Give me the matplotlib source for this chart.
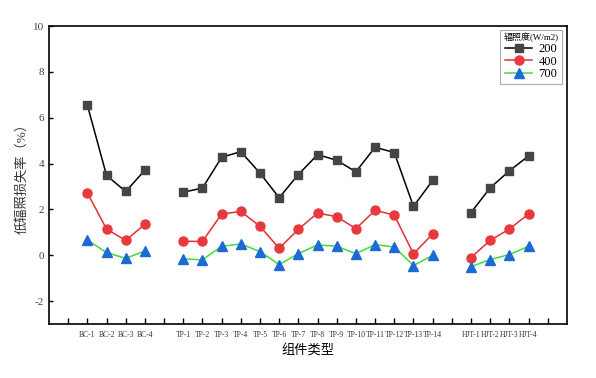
import matplotlib
matplotlib.use("Agg")
import matplotlib.pyplot as plt

plt.rcParams['font.family'] = ['Liberation Serif', 'Noto Sans CJK SC', 'DejaVu Sans']
plt.rcParams['axes.unicode_minus'] = False

categories = ["BC-1", "BC-2", "BC-3", "BC-4",
              "TP-1", "TP-2", "TP-3", "TP-4", "TP-5", "TP-6", "TP-7", "TP-8", "TP-9",
              "TP-10", "TP-11", "TP-12", "TP-13", "TP-14",
              "HJT-1", "HJT-2", "HJT-3", "HJT-4"]
positions = [2, 3, 4, 5,
             7, 8, 9, 10, 11, 12, 13, 14, 15, 16, 17, 18, 19, 20,
             22, 23, 24, 25]
groups = [(0, 4), (4, 18), (18, 22)]

s200 = [6.55, 3.48, 2.78, 3.71,
        2.75, 2.93, 4.27, 4.52, 3.58, 2.51, 3.52, 4.39, 4.14, 3.64, 4.71, 4.48, 2.13, 3.26,
        1.86, 2.94, 3.68, 4.33]
s400 = [2.72, 1.14, 0.65, 1.35,
        0.61, 0.60, 1.80, 1.91, 1.26, 0.30, 1.13, 1.84, 1.68, 1.16, 1.96, 1.75, 0.06, 0.93,
        -0.10, 0.65, 1.14, 1.80]
s700 = [0.66, 0.12, -0.14, 0.19,
        -0.16, -0.20, 0.39, 0.49, 0.16, -0.41, 0.07, 0.45, 0.39, 0.07, 0.46, 0.36, -0.45, -0.01,
        -0.50, -0.19, 0.03, 0.39]

fig = plt.figure(figsize=(5.96, 3.78), dpi=100)
ax = fig.add_axes([0.0822, 0.1429, 0.869, 0.7883])

series = [
    ("200", s200, 'black', 's', '#454545', 5.5),
    ("400", s400, '#e03035', 'o', '#e8393e', 6.5),
    ("700", s700, '#3ddc3d', '^', '#1d6ad6', 6.5),
]
for label, vals, lc, mk, mc, ms in series:
    for gi, (a, b) in enumerate(groups):
        ax.plot(positions[a:b], vals[a:b], color=lc, lw=1.1, marker=mk,
                markersize=ms, markerfacecolor=mc, markeredgecolor=mc,
                label=label if gi == 0 else None)

ax.set_xlim(0, 27)
ax.set_ylim(-3, 10)
ticks = list(range(1, 27))
labels = []
for t in ticks:
    labels.append(categories[positions.index(t)] if t in positions else "")
ax.set_xticks(ticks)
ax.set_xticklabels(labels, fontsize=5.5, color='#333333')
ax.set_yticks([-2, 0, 2, 4, 6, 8, 10])
ax.tick_params(axis='both', direction='in', length=4, width=1)
ax.tick_params(axis='y', labelsize=8, labelcolor='#444444', length=3)
ax.tick_params(axis='x', pad=5)
for sp in ax.spines.values():
    sp.set_linewidth(1.2)

ax.set_xlabel("组件类型", fontsize=9.5, labelpad=4)
ax.set_ylabel("低辐照损失率（%）", fontsize=9.5, labelpad=3, color='#333333')

leg = ax.legend(title="辐照度(W/m2)", loc='upper right', fontsize=9,
                title_fontsize=6.5, frameon=True, fancybox=False,
                edgecolor='#999999', borderpad=0.25, handlelength=2.2,
                handletextpad=0.5, labelspacing=0.05, bbox_to_anchor=(0.995, 0.995),
                borderaxespad=0.2)
leg.get_frame().set_linewidth(0.8)

fig.savefig("out.png", dpi=100)
